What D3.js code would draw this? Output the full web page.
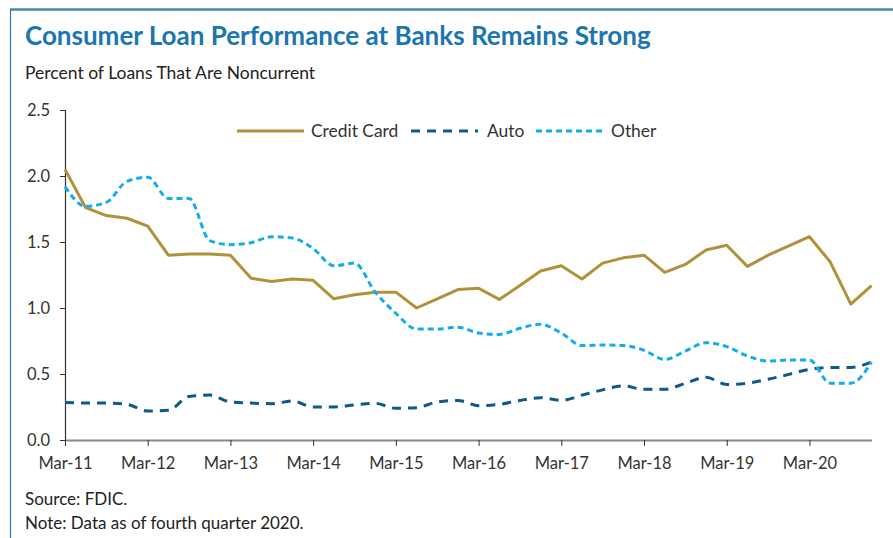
<!DOCTYPE html>
<html>
<head>
<meta charset="utf-8">
<script src="https://cdn.jsdelivr.net/npm/d3@7"></script>
<style>
  html, body { margin: 0; padding: 0; background: #fff; }
  svg { display: block; font-family: Lato, "Open Sans", sans-serif; }
</style>
</head>
<body>
<svg id="chart" width="893" height="538"></svg>
<script>
// Quarterly noncurrent rates, Mar-11 through Dec-20
const quarters = [];
for (let y = 11; y <= 20; y++) for (const m of ["Mar", "Jun", "Sep", "Dec"]) quarters.push(m + "-" + y);

const creditCard = [2.05, 1.76, 1.70, 1.68, 1.62, 1.40, 1.41, 1.41, 1.40, 1.225, 1.20, 1.22,
  1.21, 1.07, 1.10, 1.12, 1.12, 1.00, 1.07, 1.14, 1.15, 1.065, 1.17, 1.28,
  1.32, 1.22, 1.34, 1.38, 1.40, 1.27, 1.33, 1.44, 1.475, 1.315, 1.40, 1.47,
  1.54, 1.35, 1.03, 1.17];
const auto = [0.285, 0.28, 0.28, 0.27, 0.22, 0.225, 0.33, 0.34, 0.288, 0.28, 0.275, 0.295,
  0.25, 0.25, 0.265, 0.278, 0.24, 0.245, 0.288, 0.30, 0.26, 0.27, 0.30, 0.32,
  0.30, 0.34, 0.38, 0.41, 0.384, 0.384, 0.43, 0.475, 0.42, 0.43, 0.46, 0.497,
  0.535, 0.55, 0.55, 0.59];
const other = [1.92, 1.77, 1.80, 1.96, 1.99, 1.83, 1.83, 1.51, 1.48, 1.495, 1.54, 1.53,
  1.45, 1.32, 1.34, 1.12, 0.96, 0.84, 0.84, 0.855, 0.81, 0.80, 0.846, 0.877,
  0.81, 0.715, 0.72, 0.715, 0.68, 0.61, 0.674, 0.737, 0.707, 0.636, 0.598, 0.606,
  0.606, 0.43, 0.43, 0.59];

const yTicks = [0, 0.5, 1.0, 1.5, 2.0, 2.5];
const xTickLabels = ["Mar-11", "Mar-12", "Mar-13", "Mar-14", "Mar-15", "Mar-16", "Mar-17", "Mar-18", "Mar-19", "Mar-20"];

const series = [
  { name: "Credit Card", values: creditCard, color: "#b0923b", dash: null, curve: d3.curveLinear },
  { name: "Auto", values: auto, color: "#0d5a85", dash: "9,7", curve: d3.curveMonotoneX },
  { name: "Other", values: other, color: "#13aee8", dash: "6,4", curve: d3.curveMonotoneX }
];

const svg = d3.select("#chart");
const W = 893, H = 538;
const plot = { left: 65, right: 871.5, top: 110, bottom: 440 };

// Frame: heavy top rule and thin left rule
svg.append("line").attr("x1", 10).attr("x2", W).attr("y1", 9.5).attr("y2", 9.5)
  .attr("stroke", "#4a89a6").attr("stroke-width", 2.5);
svg.append("line").attr("x1", 10.5).attr("x2", 10.5).attr("y1", 9).attr("y2", H)
  .attr("stroke", "#2f79ad").attr("stroke-width", 1.2);

svg.append("text").attr("x", 25).attr("y", 45)
  .attr("fill", "#1a75b0").attr("font-size", 26).attr("font-weight", 700)
  .text("Consumer Loan Performance at Banks Remains Strong");
svg.append("text").attr("x", 25).attr("y", 79)
  .attr("fill", "#222").attr("font-size", 17.5)
  .text("Percent of Loans That Are Noncurrent");

const x = d3.scalePoint().domain(quarters).range([plot.left, plot.right]);
const y = d3.scaleLinear().domain([0, 2.5]).range([plot.bottom, plot.top]);

// Y axis
const yAxis = svg.append("g").attr("transform", `translate(${plot.left},0)`)
  .call(d3.axisLeft(y).tickValues(yTicks).tickFormat(d3.format(".1f")).tickSize(5).tickPadding(10));
yAxis.select(".domain").attr("stroke", "#333").attr("stroke-width", 1.2);
yAxis.selectAll(".tick line").attr("stroke", "#333");
yAxis.selectAll(".tick text").attr("font-size", 16.5).attr("fill", "#333")
  .attr("font-family", "Lato, sans-serif");

// X axis
const xAxis = svg.append("g").attr("transform", `translate(0,${plot.bottom})`)
  .call(d3.axisBottom(x).tickValues(xTickLabels).tickSize(6).tickSizeOuter(0).tickPadding(11));
xAxis.select(".domain").attr("stroke", "#888").attr("stroke-width", 2);
xAxis.selectAll(".tick line").attr("stroke", "#333");
xAxis.selectAll(".tick text").attr("font-size", 16.5).attr("fill", "#333")
  .attr("font-family", "Lato, sans-serif");

// Series lines
for (const s of series) {
  const line = d3.line().x((d, i) => x(quarters[i])).y(d => y(d)).curve(s.curve);
  svg.append("path").datum(s.values)
    .attr("d", line)
    .attr("fill", "none")
    .attr("stroke", s.color)
    .attr("stroke-width", 3)
    .attr("stroke-dasharray", s.dash)
    .attr("stroke-linejoin", "round");
}

// Legend
const legendPos = [
  { lx: 237, tx: 311 },
  { lx: 411, tx: 487 },
  { lx: 536, tx: 611 }
];
series.forEach((s, i) => {
  const p = legendPos[i];
  svg.append("line").attr("x1", p.lx).attr("x2", p.lx + 67).attr("y1", 131).attr("y2", 131)
    .attr("stroke", s.color).attr("stroke-width", 3).attr("stroke-dasharray", s.dash);
  svg.append("text").attr("x", p.tx).attr("y", 137).attr("font-size", 17.4).attr("fill", "#333")
    .text(s.name);
});

// Footnotes
svg.append("text").attr("x", 25).attr("y", 505).attr("font-size", 17).attr("fill", "#222")
  .text("Source: FDIC.");
svg.append("text").attr("x", 25).attr("y", 529).attr("font-size", 17).attr("fill", "#222")
  .text("Note: Data as of fourth quarter 2020.");
</script>
</body>
</html>
